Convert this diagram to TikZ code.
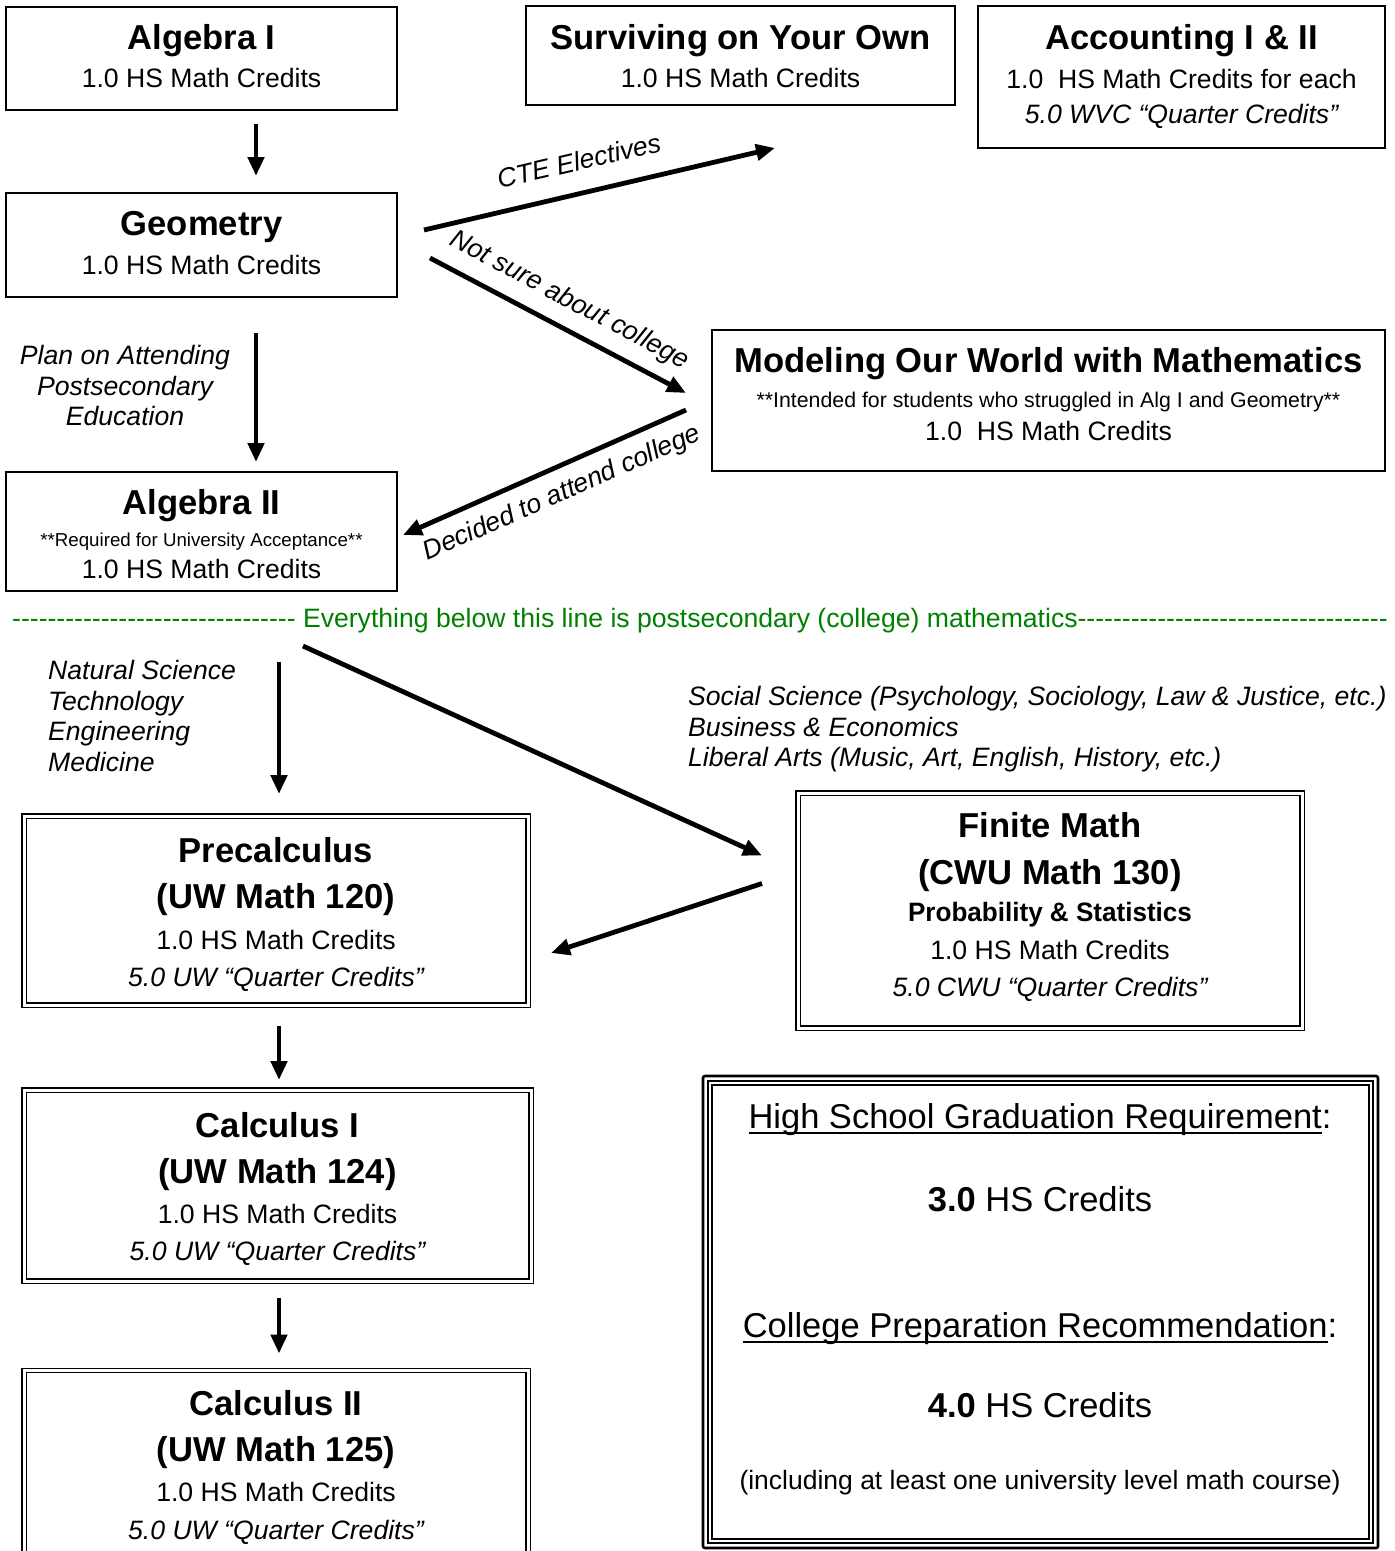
\documentclass[tikz,border=0pt]{standalone}
\usepackage{fontspec}
\setmainfont{Liberation Sans}
\usetikzlibrary{arrows.meta}
\definecolor{divgreen}{RGB}{0,128,0}
\newsavebox\ulbox
\newcommand\myul[1]{\sbox\ulbox{#1}\rlap{\rule[-5.5pt]{\wd\ulbox}{1.8pt}}\usebox\ulbox}
\tikzset{
  box/.style={draw, line width=1.3pt, inner sep=0pt, outer sep=0pt},
  dbox/.style={draw, line width=1.4pt, double, double distance=3pt, inner sep=0pt, outer sep=0pt},
  ttl/.style={font=\fontsize{34.6}{40}\selectfont\bfseries, anchor=base, inner sep=0pt},
  bdy/.style={font=\fontsize{26.6}{30.7}\selectfont, anchor=base, inner sep=0pt},
  ital/.style={font=\fontsize{26.6}{30.7}\selectfont\itshape, anchor=base, inner sep=0pt},
  big/.style={font=\fontsize{34.5}{40}\selectfont, anchor=base, inner sep=0pt},
  arr/.style={line width=4.8pt, -{Triangle[length=19pt,width=16pt]}},
}
\newcommand\hyphens[1]{\foreach \k in {1,...,#1}{\hbox{-}}}
\begin{document}
\begin{tikzpicture}[x=1pt,y=-1pt]
\useasboundingbox (0,0) rectangle (1395,1551);
\fill[white] (0,0) rectangle (1395,1551);

% ---------- high school boxes ----------
\node[box, minimum width=391pt, minimum height=103pt] (alg1) at (201.5,58.5) {};
\node[ttl] (alg1t) at (201.5,49) {Algebra I};
\node[bdy] (alg1c) at (201.5,87.5) {1.0 HS Math Credits};

\node[box, minimum width=429pt, minimum height=99pt] (surv) at (740.5,55.5) {};
\node[ttl] (survt) at (740.5,49) {Surviving on Your Own};
\node[bdy] (survc) at (740.5,87.5) {1.0 HS Math Credits};

\node[box, minimum width=407pt, minimum height=142pt] (acct) at (1181.5,77) {};
\node[ttl] (acctt) at (1181.5,49) {Accounting I \& II};
\node[bdy] (acctc) at (1181.5,88) {1.0\ \ HS Math Credits for each};
\node[ital] (accti) at (1181.5,123.5) {5.0 WVC “Quarter Credits”};

\node[box, minimum width=391pt, minimum height=104pt] (geo) at (201.5,245) {};
\node[ttl] (geot) at (201.5,235.5) {Geometry};
\node[bdy] (geoc) at (201.5,274.5) {1.0 HS Math Credits};

\node[box, minimum width=673pt, minimum height=141pt] (model) at (1048.5,400.5) {};
\node[ttl] (modelt) at (1048.5,372.5) {Modeling Our World with Mathematics};
\node[bdy, font=\fontsize{21.3}{25}\selectfont] (models) at (1048.5,407.5) {**Intended for students who struggled in Alg I and Geometry**};
\node[bdy] (modelc) at (1048.5,440.5) {1.0\ \ HS Math Credits};

\node[box, minimum width=391pt, minimum height=119pt] (alg2) at (201.5,531.5) {};
\node[ttl] (alg2t) at (201.5,514.5) {Algebra II};
\node[bdy, font=\fontsize{18.7}{22}\selectfont] (alg2s) at (201.5,546.5) {**Required for University Acceptance**};
\node[bdy] (alg2c) at (201.5,578.5) {1.0 HS Math Credits};

% ---------- labels ----------
\node[ital, align=center, anchor=north] (planlbl) at (125,345) {Plan on Attending\\Postsecondary\\Education};

\node[ital, rotate=13] (ctelbl) at (581,170) {CTE Electives};
\node[ital, rotate=-27.8] (notlbl) at (566,307) {Not sure about college};
\node[ital, rotate=23.8] (declbl) at (565,500) {Decided to attend college};

% ---------- arrows (high school) ----------
\draw[arr, shorten <=14pt, shorten >=17pt] ([xshift=54.5pt]alg1.south) -- ([xshift=54.5pt]geo.north);
\draw[arr, shorten <=36pt, shorten >=10pt] ([xshift=54.5pt]geo.south) -- ([xshift=54.5pt]alg2.north);
\draw[arr] ([shift={(27,-15)}]geo.east) -- ([shift={(34.5,43)}]surv.south);
\draw[arr] ([shift={(33,13)}]geo.east) -- ([shift={(-26,-7.5)}]model.west);
\draw[arr] ([shift={(-26,9.5)}]model.west) -- ([shift={(6,3.5)}]alg2.east);

% ---------- divider ----------
\node[bdy, text=divgreen] (divider) at (700,627.5) {\hyphens{32}\ Everything below this line is postsecondary (college) mathematics\hyphens{35}};

% ---------- college labels ----------
\node[ital, align=left, anchor=north west] (natlbl) at (48,660) {Natural Science\\Technology\\Engineering\\Medicine};
\node[ital, align=left, anchor=north west] (soclbl) at (688,686) {Social Science (Psychology, Sociology, Law \& Justice, etc.)\\Business \& Economics\\Liberal Arts (Music, Art, English, History, etc.)};

% ---------- college boxes ----------
\node[dbox, minimum width=504pt, minimum height=189pt] (pre) at (276,910.5) {};
\node[ttl] (pret) at (276,862.5) {Precalculus};
\node[ttl] (pren) at (276,908.5) {(UW Math 120)};
\node[bdy] (prec) at (276,949.5) {1.0 HS Math Credits};
\node[ital] (prei) at (276,986.5) {5.0 UW “Quarter Credits”};

\node[dbox, minimum width=504pt, minimum height=235pt] (fin) at (1050,910.5) {};
\node[ttl] (fint) at (1050,837.5) {Finite Math};
\node[ttl] (finn) at (1050,884) {(CWU Math 130)};
\node[bdy, font=\fontsize{26.6}{30}\selectfont\bfseries, xscale=0.98] (fins) at (1050,921.5) {Probability \& Statistics};
\node[bdy] (finc) at (1050,959) {1.0 HS Math Credits};
\node[ital] (fini) at (1050,996) {5.0 CWU “Quarter Credits”};

\node[dbox, minimum width=507pt, minimum height=191pt] (calc1) at (277.5,1185.5) {};
\node[ttl] (calc1t) at (277.5,1137.5) {Calculus I};
\node[ttl] (calc1n) at (277.5,1183.5) {(UW Math 124)};
\node[bdy] (calc1c) at (277.5,1223.5) {1.0 HS Math Credits};
\node[ital] (calc1i) at (277.5,1260.5) {5.0 UW “Quarter Credits”};

\node[dbox, minimum width=504pt, minimum height=189pt] (calc2) at (276,1465) {};
\node[ttl] (calc2t) at (276,1415.5) {Calculus II};
\node[ttl] (calc2n) at (276,1461.5) {(UW Math 125)};
\node[bdy] (calc2c) at (276,1501.5) {1.0 HS Math Credits};
\node[ital] (calc2i) at (276,1539.5) {5.0 UW “Quarter Credits”};

% ---------- requirement box ----------
\node[draw, line width=2.6pt, rounded corners=2pt, minimum width=675pt, minimum height=472pt, inner sep=0pt, outer sep=0pt] (grad) at (1040.5,1312) {};
\draw[line width=1.2pt, double, double distance=2.8pt] ([shift={(7,7)}]grad.north west) rectangle ([shift={(-7,-7)}]grad.south east);
\node[big] (gradh) at (1040,1128) {\myul{High School Graduation Requirement}:};
\node[big] (gradv) at (1040,1211) {\textbf{3.0} HS Credits};
\node[big] (colh) at (1040,1337) {\myul{College Preparation Recommendation}:};
\node[big] (colv) at (1040,1417) {\textbf{4.0} HS Credits};
\node[bdy, font=\fontsize{26.5}{30}\selectfont] (colnote) at (1040,1489) {(including at least one university level math course)};

% ---------- arrows (college) ----------
\coordinate (natstart) at (279,662);
\coordinate (socstart) at (303,646);
\draw[arr, shorten >=22pt] (natstart) -- (natstart |- pre.north);
\draw[arr] (socstart) -- ([shift={(-36,-55)}]fin.west);
\draw[arr] ([shift={(-36,-27)}]fin.west) -- ([shift={(23,42.5)}]pre.east);
\draw[arr, shorten <=21pt, shorten >=10pt] ([xshift=3pt]pre.south) -- ([xshift=1.5pt]calc1.north);
\draw[arr, shorten <=17pt, shorten >=17pt] ([xshift=1.5pt]calc1.south) -- ([xshift=3pt]calc2.north);
\end{tikzpicture}
\end{document}
